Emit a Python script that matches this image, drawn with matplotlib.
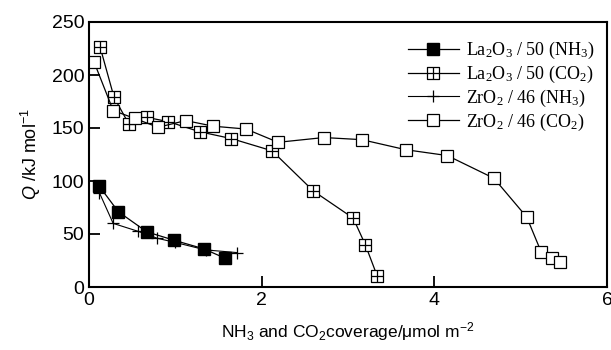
import numpy as np
import matplotlib
matplotlib.use("Agg")
import matplotlib.pyplot as plt
from matplotlib.path import Path

plt.rcParams['mathtext.fontset'] = 'custom'
plt.rcParams['mathtext.rm'] = 'Liberation Sans'
plt.rcParams['mathtext.it'] = 'Liberation Sans:italic'

# La2O3/50 NH3 (filled squares)
la_nh3_x = [0.12, 0.34, 0.67, 0.99, 1.33, 1.58]
la_nh3_y = [95, 71, 52, 44, 36, 27]

# La2O3/50 CO2 (crossed squares)
la_co2_x = [0.13, 0.29, 0.46, 0.67, 0.92, 1.28, 1.65, 2.12, 2.60, 3.06, 3.20, 3.34]
la_co2_y = [226, 179, 154, 160, 156, 146.5, 140, 128.5, 90.5, 65, 40, 10]

# ZrO2/46 NH3 (plus)
zr_nh3_x = [0.12, 0.28, 0.57, 0.79, 1.0, 1.35, 1.71]
zr_nh3_y = [89, 60, 52.5, 46, 42, 35, 32.5]

# ZrO2/46 CO2 (open squares)
zr_co2_x = [0.06, 0.28, 0.53, 0.80, 1.12, 1.44, 1.82, 2.19, 2.72, 3.16, 3.67, 4.15,
            4.69, 5.07, 5.24, 5.36, 5.45]
zr_co2_y = [212, 166.5, 159, 150.7, 157, 151.7, 149, 136.5, 141, 139, 129.5, 124,
            102.6, 66, 32.6, 27, 24]

# square with a cross inside
kvad = Path([(-1, -1), (1, -1), (1, 1), (-1, 1), (-1, -1),
             (0, -1), (0, 1), (-1, 0), (1, 0)],
            [Path.MOVETO, Path.LINETO, Path.LINETO, Path.LINETO, Path.CLOSEPOLY,
             Path.MOVETO, Path.LINETO, Path.MOVETO, Path.LINETO])

fig = plt.figure(figsize=(6.11, 3.5), dpi=100)
ax = fig.add_axes([89/611, 1 - 287/350, (607 - 89)/611, (287 - 22)/350])

ax.plot(la_nh3_x, la_nh3_y, color='k', lw=0.9, marker='s', ms=8,
        mfc='k', mec='k', label=r'La$\mathregular{_2}$O$\mathregular{_3}$ / 50 (NH$\mathregular{_3}$)')
ax.plot(la_co2_x, la_co2_y, color='k', lw=0.9, marker=kvad, ms=8.5,
        mfc='white', mec='k', mew=0.9, label=r'La$\mathregular{_2}$O$\mathregular{_3}$ / 50 (CO$\mathregular{_2}$)')
ax.plot(zr_nh3_x, zr_nh3_y, color='k', lw=0.8, marker='+', ms=9,
        mew=0.9, label=r'ZrO$\mathregular{_2}$ / 46 (NH$\mathregular{_3}$)')
ax.plot(zr_co2_x, zr_co2_y, color='k', lw=0.9, marker='s', ms=8.5,
        mfc='white', mec='k', mew=0.9, label=r'ZrO$\mathregular{_2}$ / 46 (CO$\mathregular{_2}$)')

ax.set_xlim(0, 6)
ax.set_ylim(0, 250)
ax.set_xticks([0, 2, 4, 6])
ax.set_yticks([0, 50, 100, 150, 200, 250])
ax.tick_params(direction='in', length=8, width=1.3, labelsize=14,
               top=False, right=False)
for s in ax.spines.values():
    s.set_linewidth(1.5)

ax.set_xlabel(r'NH$_3$ and CO$_2$coverage/μmol m$^{-2}$', fontsize=12.5,
              family='Liberation Sans', labelpad=8)
ax.set_ylabel(r'$Q$ /kJ mol$^{-1}$', fontsize=13, family='Liberation Sans',
              labelpad=6)
for t in ax.get_xticklabels() + ax.get_yticklabels():
    t.set_family('Liberation Sans')

ax.legend(loc='upper right', frameon=False, prop={'family': 'Liberation Serif', 'size': 13},
          handlelength=2.8, borderaxespad=0.3, labelspacing=0.15, handletextpad=0.4,
          bbox_to_anchor=(1.0, 0.98))

fig.savefig('out.png', dpi=100)
